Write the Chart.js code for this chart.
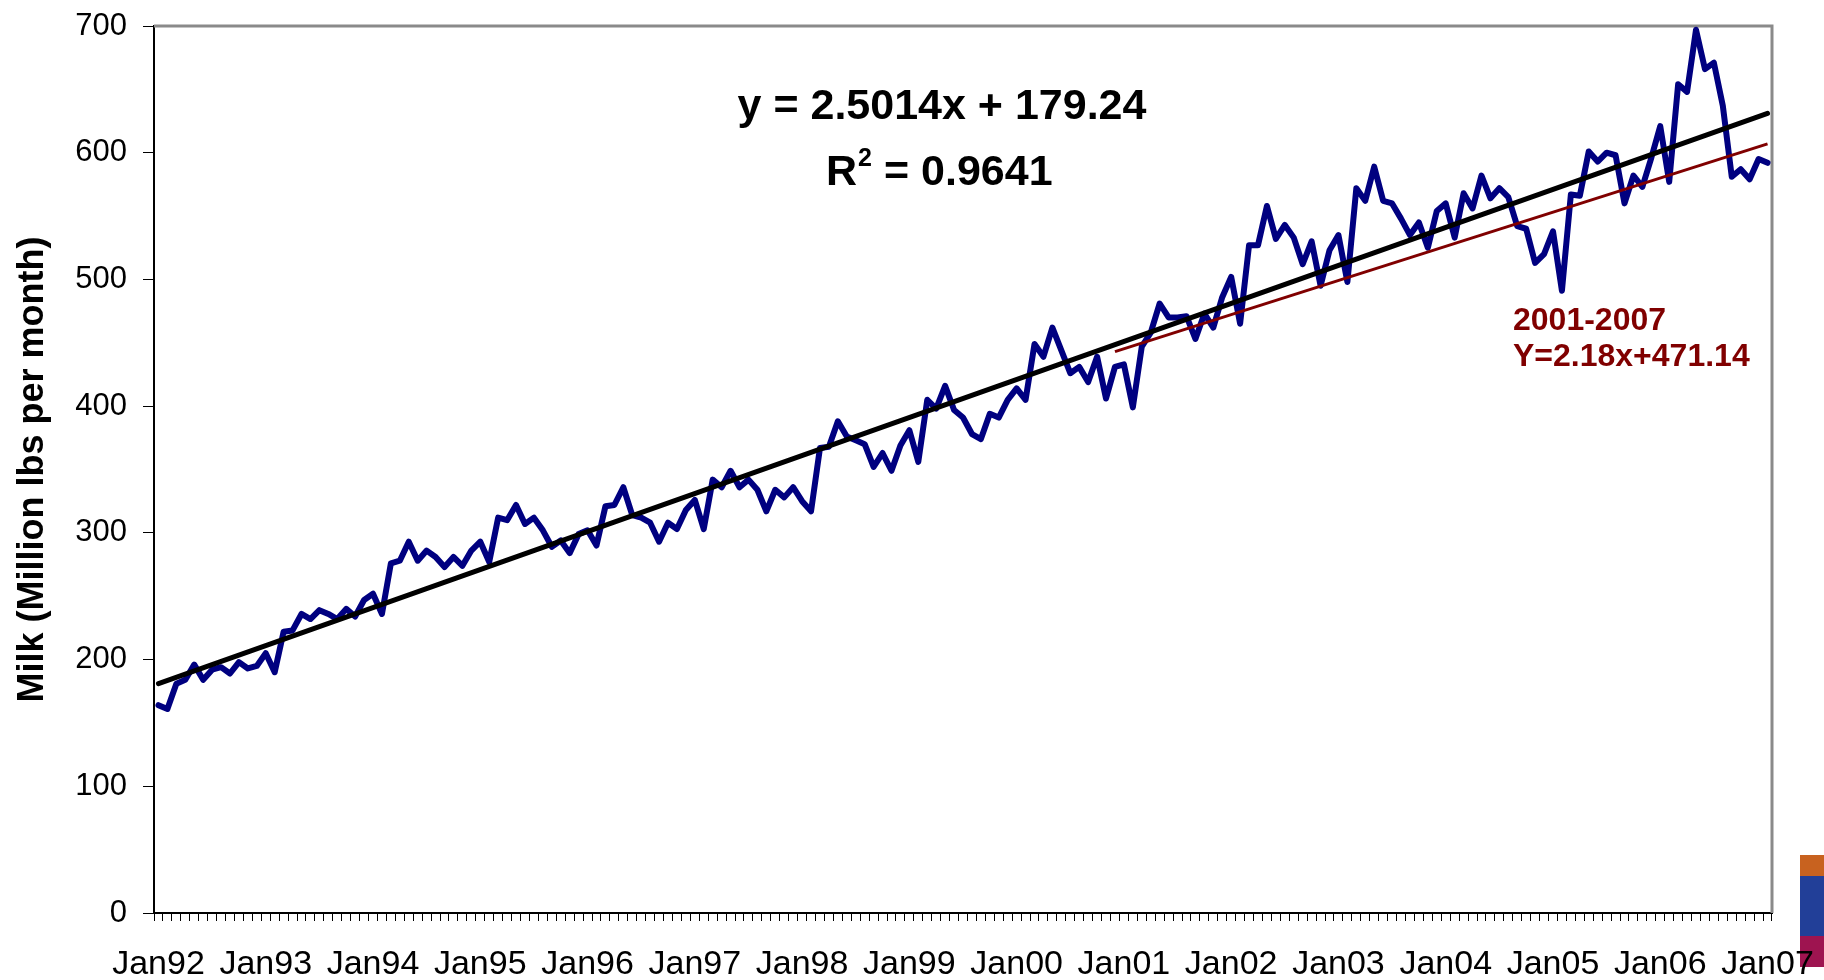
<!DOCTYPE html>
<html>
<head>
<meta charset="utf-8">
<script src="https://cdn.jsdelivr.net/npm/chart.js@4.4.1/dist/chart.umd.min.js"></script>
<style>
    html, body { margin: 0; padding: 0; background: #fff; }
    #wrap { position: relative; width: 1824px; height: 980px; }
    canvas { display: block; position: relative; z-index: 1; }
    .strip { position: absolute; left: 1800px; width: 24px; z-index: 0; }
</style>
</head>
<body>
<div id="wrap">
    <div class="strip" style="top:855px;height:21px;background:#c8621f"></div>
    <div class="strip" style="top:876px;height:60px;background:#223f98"></div>
    <div class="strip" style="top:936px;height:31px;background:#9e1450"></div>
    <canvas id="chart" width="1824" height="980"></canvas>
</div>
<script>
// month categories, Jan92 .. Jan07
const monthNames = ['Jan','Feb','Mar','Apr','May','Jun','Jul','Aug','Sep','Oct','Nov','Dec'];
const years = ['92','93','94','95','96','97','98','99','00','01','02','03','04','05','06','07'];

// monthly milk production (million lbs)
const milk = [
    164,161,181,184,196,184,192,194,189,198,193,195,
    205,190,222,223,236,232,239,236,232,240,234,247,
    252,236,276,278,293,278,286,281,273,281,274,286,
    293,277,312,310,322,307,312,302,289,294,284,299,
    302,290,321,322,336,314,312,308,293,308,303,318,
    326,303,342,336,349,336,342,334,317,334,328,336,
    325,317,367,368,388,376,373,370,352,363,349,369,
    381,356,405,398,416,397,391,378,374,394,391,405,
    414,405,449,439,462,444,426,431,419,439,406,431,
    433,399,447,458,481,470,470,471,453,473,462,486,
    502,465,527,527,558,532,543,533,512,530,495,523,
    535,498,572,562,589,562,560,548,535,545,525,554,
    560,533,568,556,582,564,572,565,542,540,513,520,
    538,491,567,566,601,593,600,598,560,582,573,596,
    621,577,654,648,697,666,671,637,581,587,579,595,
    592
];

// trend lines (end points)
const trendAllX = ['Jan92', 'Jan07'];
const trendAllY = [181, 631];
const trend0107X = ['Dec00', 'Jan07'];
const trend0107Y = [443, 607];

const yTicks = [0, 100, 200, 300, 400, 500, 600, 700];

const labels = [];
years.forEach(y => {
    monthNames.forEach(m => {
        if (labels.length < milk.length) labels.push(m + y);
    });
});

const FONT = "'Liberation Sans', Arial, sans-serif";

// grey frame on top and right of plot area
const framePlugin = {
    id: 'frame',
    beforeDatasetsDraw(chart) {
        const { ctx, chartArea: a } = chart;
        ctx.save();
        ctx.strokeStyle = '#8a8a8a';
        ctx.lineWidth = 3;
        ctx.beginPath();
        ctx.moveTo(a.left, a.top);
        ctx.lineTo(a.right, a.top);
        ctx.lineTo(a.right, a.bottom);
        ctx.stroke();
        ctx.restore();
    }
};

// equation texts
const textPlugin = {
    id: 'texts',
    afterDatasetsDraw(chart) {
        const ctx = chart.ctx;
        ctx.save();
        ctx.fillStyle = '#000';
        ctx.textBaseline = 'alphabetic';
        ctx.font = 'bold 43px ' + FONT;
        ctx.textAlign = 'center';
        ctx.fillText('y = 2.5014x + 179.24', 942, 119);

        ctx.textAlign = 'left';
        ctx.fillText('R', 826, 185);
        ctx.font = 'bold 25px ' + FONT;
        ctx.fillText('2', 858, 166);
        ctx.font = 'bold 43px ' + FONT;
        ctx.fillText('= 0.9641', 884, 185);

        ctx.fillStyle = '#800000';
        ctx.font = 'bold 32px ' + FONT;
        ctx.fillText('2001-2007', 1513, 330);
        ctx.fillText('Y=2.18x+471.14', 1513, 366);
        ctx.restore();
    }
};

new Chart(document.getElementById('chart').getContext('2d'), {
    type: 'line',
    data: {
        labels: labels,
        datasets: [
            {
                label: 'Milk',
                data: milk,
                borderColor: '#000080',
                borderWidth: 6,
                pointRadius: 0,
                tension: 0,
                borderJoinStyle: 'round',
                borderCapStyle: 'round',
                order: 2
            },
            {
                label: 'Trend 1992-2007',
                data: trendAllX.map((x, i) => ({ x: x, y: trendAllY[i] })),
                borderColor: '#000000',
                borderWidth: 5,
                pointRadius: 0,
                borderCapStyle: 'round',
                order: 0
            },
            {
                label: 'Trend 2001-2007',
                data: trend0107X.map((x, i) => ({ x: x, y: trend0107Y[i] })),
                borderColor: '#800000',
                borderWidth: 3,
                pointRadius: 0,
                order: 1
            }
        ]
    },
    options: {
        responsive: false,
        animation: false,
        devicePixelRatio: 1,
        layout: { padding: { left: 0, right: 52, top: 26, bottom: 0 } },
        plugins: {
            legend: { display: false },
            tooltip: { enabled: false }
        },
        scales: {
            x: {
                type: 'category',
                offset: true,
                grid: {
                    offset: true,
                    drawOnChartArea: false,
                    drawTicks: true,
                    tickLength: 8,
                    color: '#000',
                    lineWidth: 1
                },
                border: { display: true, color: '#000', width: 2 },
                ticks: {
                    autoSkip: false,
                    maxRotation: 0,
                    minRotation: 0,
                    padding: 23,
                    color: '#000',
                    font: { family: FONT, size: 34 },
                    callback: function (v) {
                        const l = this.getLabelForValue(v);
                        return l.startsWith('Jan') ? l : '';
                    }
                },
                afterFit: s => {
                    s.height = 67;
                    s.paddingLeft = 0;
                    s.paddingRight = 0;
                }
            },
            y: {
                min: yTicks[0],
                max: yTicks[yTicks.length - 1],
                afterBuildTicks: s => { s.ticks = yTicks.map(v => ({ value: v })); },
                grid: {
                    drawOnChartArea: false,
                    tickLength: 11,
                    color: '#000'
                },
                border: { display: true, color: '#000', width: 2 },
                ticks: {
                    padding: 16,
                    color: '#000',
                    font: { family: FONT, size: 31 }
                },
                title: {
                    display: true,
                    text: 'Milk (Million lbs per month)',
                    color: '#000',
                    font: { family: FONT, size: 36, weight: 'bold' },
                    padding: { top: 11, bottom: 0 }
                },
                afterFit: s => {
                    s.width = 154;
                    s.paddingTop = 0;
                    s.paddingBottom = 0;
                }
            }
        }
    },
    plugins: [framePlugin, textPlugin]
});
</script>
</body>
</html>
